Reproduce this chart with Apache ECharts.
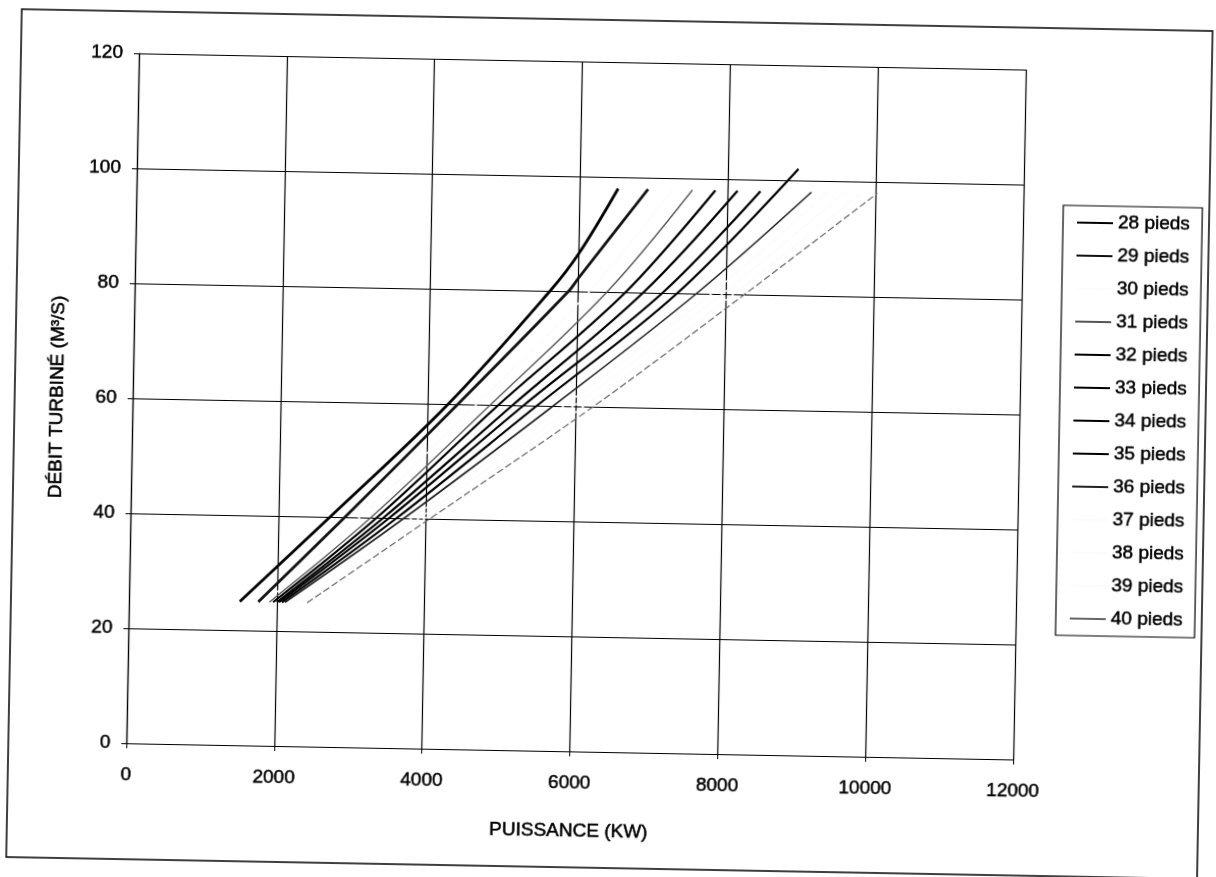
<!DOCTYPE html>
<html><head><meta charset="utf-8">
<script src="https://cdn.jsdelivr.net/npm/echarts@6/dist/echarts.min.js"></script>
<style>
html,body{margin:0;padding:0;background:#fff;overflow:hidden}
#c{width:1216px;height:877px;transform:rotate(1.05deg);transform-origin:608px 438.5px;}
</style></head><body><div id="c"></div>
<script>
// Axis ticks
const xTicks = [0, 2000, 4000, 6000, 8000, 10000, 12000];
const yTicks = [0, 20, 40, 60, 80, 100, 120];

// Series names (legend)
const names = ['28 pieds','29 pieds','30 pieds','31 pieds','32 pieds','33 pieds','34 pieds',
               '35 pieds','36 pieds','37 pieds','38 pieds','39 pieds','40 pieds'];

// [puissance kW, débit m3/s]
const s28 = [[1500,25],[2700,40],[4270,60],[5620,80],[6000,86.6],[6515,98]];
const s29 = [[1750,25],[2900,40],[4400,60],[5870,80],[6000,82.3],[6920,98]];
const s30 = [[1850,25],[3100,40],[4650,60],[6150,80],[7250,98]];
const s31 = [[1900,25],[3250,40],[4840,60],[6390,80],[7520,98]];
const s32 = [[1950,25],[3330,40],[4950,60],[6640,80],[7830,98]];
const s33 = [[2000,25],[3420,40],[5140,60],[6880,80],[8130,98]];
const s34 = [[2030,25],[3500,40],[5290,60],[7140,80],[8440,98]];
const s35 = [[2070,25],[3600,40],[5470,60],[7340,80],[8950,102]];
const s36 = [[2110,25],[3700,40],[5690,60],[7600,80],[9130,98]];
const s37 = [[2180,25],[3800,40],[5830,60],[7800,80],[9350,98]];
const s38 = [[2250,25],[3900,40],[5960,60],[7950,80],[9570,98]];
const s39 = [[2330,25],[3980,40],[6100,60],[8100,80],[9800,98]];
const s40 = [[2410,25],[4050,40],[6230,60],[8250,80],[10020,98]];

const allData = [s28,s29,s30,s31,s32,s33,s34,s35,s36,s37,s38,s39,s40];
const styles = [
  {c:'#000', w:2.8}, {c:'#111', w:2.8}, {c:'#fbfbfb', w:1.5}, {c:'#555', w:1.3},
  {c:'#000', w:2.2}, {c:'#000', w:2.2}, {c:'#000', w:2.2}, {c:'#000', w:2.2},
  {c:'#222', w:1.6}, {c:'#fbfbfb', w:1.5}, {c:'#fbfbfb', w:1.5}, {c:'#fbfbfb', w:1.5},
  {c:'#666', w:1.2, t:[7,3]}
];

const font = 'Liberation Sans, Arial, sans-serif';
const txt = {color:'#000', fontSize:19, fontFamily:font, textBorderColor:'#000', textBorderWidth:0.5};
const chart = echarts.init(document.getElementById('c'), null, {renderer:'canvas'});
chart.setOption({
  animation:false,
  backgroundColor:'#fff',
  grid:{left:132, top:62, width:887, height:690},
  xAxis:{
    type:'value', min:0, max:12000, interval:2000,
    name:'PUISSANCE (KW)', nameLocation:'middle', nameGap:70,
    nameTextStyle:txt,
    axisLine:{show:true, lineStyle:{color:'#000', width:1.2}},
    axisTick:{show:true, length:5, lineStyle:{color:'#000'}},
    axisLabel:Object.assign({margin:22, formatter:v=>String(v)}, txt),
    splitLine:{show:true, lineStyle:{color:'#000', width:1.2}}
  },
  yAxis:{
    type:'value', min:0, max:120, interval:20,
    name:'DÉBIT TURBINÉ (M³/S)', nameLocation:'middle', nameGap:66, nameRotate:90,
    nameTextStyle:txt,
    axisLine:{show:true, lineStyle:{color:'#000', width:1.2}},
    axisTick:{show:true, length:5, lineStyle:{color:'#000'}},
    axisLabel:Object.assign({margin:16, formatter:v=>String(v)}, txt),
    splitLine:{show:true, lineStyle:{color:'#000', width:1.2}}
  },
  legend:{
    orient:'vertical', left:1059, top:197,
    padding:[7,12,7,14], itemGap:13, itemWidth:36, itemHeight:2, icon:'rect',
    borderColor:'#000', borderWidth:1.2, backgroundColor:'#fff',
    textStyle:Object.assign({lineHeight:20}, txt),
    data:names
  },
  graphic:[{type:'rect', silent:true, z:-1,
    shape:{x:14, y:20, width:1191, height:848},
    style:{fill:'none', stroke:'#000', lineWidth:1.5}}],
  series: allData.map((d,i)=>({
    name:names[i], type:'line', data:d, smooth:0.35, symbol:'none',
    lineStyle:{color:styles[i].c, width:styles[i].w, type:styles[i].t||'solid'},
    itemStyle:{color:styles[i].c}
  }))
});
</script></body></html>
